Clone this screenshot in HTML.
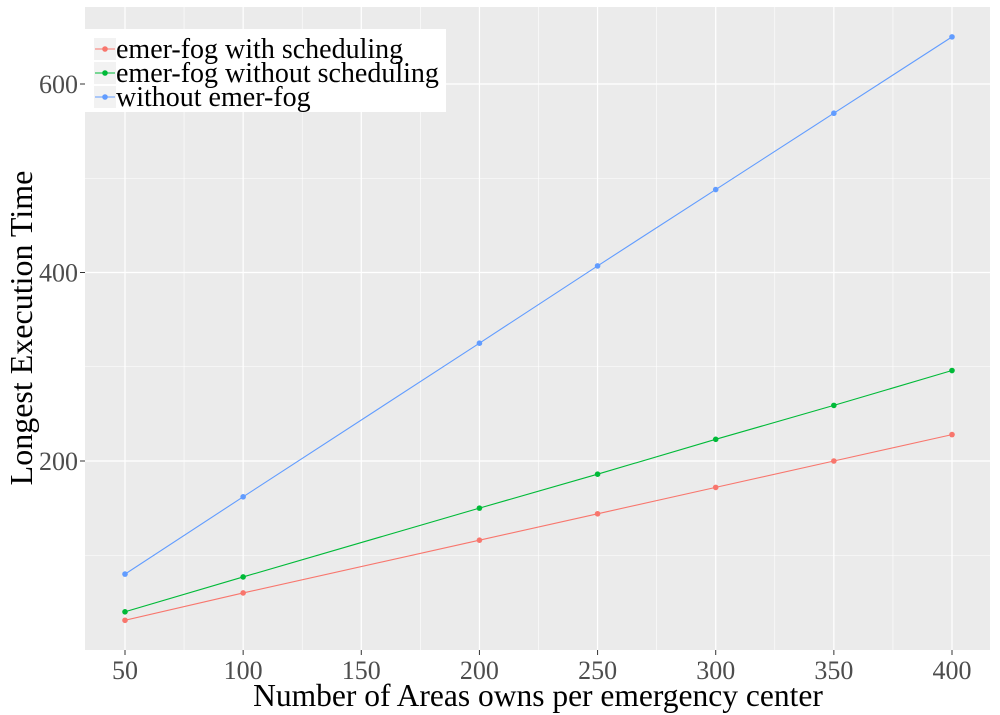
<!DOCTYPE html>
<html><head><meta charset="utf-8"><style>body{margin:0;background:#fff}svg{display:block;font-family:"Liberation Serif",serif}</style></head>
<body>
<svg id="c" width="1000" height="715">
<rect x="85" y="7" width="905" height="643" fill="#ebebeb"/>
<g id="grid"></g><g id="series"></g><g id="axes"></g>
<text x="538" y="706" font-size="31.5" text-anchor="middle">Number of Areas owns per emergency center</text>
<text transform="translate(32,328) rotate(-90)" font-size="32" text-anchor="middle">Longest Execution Time</text>
<g>
<rect x="85" y="29" width="361" height="83" fill="#fff"/>
<g id="legend"></g>
</g>
</svg>
<script>
const xs=[50,100,200,250,300,350,400];
const redVals=[31,60,116,144,172,200,228];
const greenVals=[40,77,150,186,223,259,296];
const blueVals=[80,162,325,407,488,569,650];
const names=["emer-fog with scheduling","emer-fog without scheduling","without emer-fog"];
const colors=["#f8766d","#00ba38","#619cff"];
const xTicks=[50,100,150,200,250,300,350,400];
const yTicks=[200,400,600];
const X=v=>125+(v-50)*827/350;
const Y=v=>649.5-v*188.5/200;
const NS="http://www.w3.org/2000/svg";
function mk(t,a,p){const e=document.createElementNS(NS,t);for(const k in a)e.setAttribute(k,a[k]);p.appendChild(e);return e;}
const g=document.getElementById('grid'),ax=document.getElementById('axes');
for(let v=75;v<=425;v+=50){const l=mk('line',{x1:X(v),x2:X(v),y1:7,y2:650,stroke:'#fff','stroke-width':0.6},g);}
for(let v=100;v<=700;v+=200){if(Y(v)<7)continue;const l=mk('line',{x1:85,x2:990,y1:Y(v),y2:Y(v),stroke:'#fff','stroke-width':0.6},g);}
xTicks.forEach(v=>{const l=mk('line',{x1:X(v),x2:X(v),y1:7,y2:650,stroke:'#fff','stroke-width':1.2},g);
const t=mk('line',{x1:X(v),x2:X(v),y1:650,y2:655,stroke:'#333'},ax);
const s=mk('text',{x:X(v),y:679,'font-size':26,'text-anchor':'middle',fill:'#4d4d4d'},ax);s.textContent=v;});
yTicks.forEach(v=>{const l=mk('line',{x1:85,x2:990,y1:Y(v),y2:Y(v),stroke:'#fff','stroke-width':1.2},g);
const t=mk('line',{x1:80,x2:85,y1:Y(v),y2:Y(v),stroke:'#333'},ax);
const s=mk('text',{x:78,y:Y(v)+9,'font-size':26,'text-anchor':'end',fill:'#4d4d4d'},ax);s.textContent=v;});
const sg=document.getElementById('series');
[redVals,greenVals,blueVals].forEach((vals,i)=>{
const p=mk('polyline',{points:xs.map((x,j)=>X(x)+','+Y(vals[j])).join(' '),fill:'none',stroke:colors[i],'stroke-width':1.1},sg);

xs.forEach((x,j)=>{const c=mk('circle',{cx:X(x),cy:Y(vals[j]),r:2.8,fill:colors[i]},sg);});
});
const lg=document.getElementById('legend');
names.forEach((n,i)=>{const y=49+i*24;
const e=mk('g',{},lg);
mk('rect',{x:94,y:y-11,width:22,height:22,fill:'#f2f2f2'},e);
mk('line',{x1:95,x2:115,y1:y,y2:y,stroke:colors[i],'stroke-width':1.1},e);
mk('circle',{cx:105,cy:y,r:2.8,fill:colors[i]},e);
const t=mk('text',{x:116,y:y+9,'font-size':28},e);t.textContent=n;});
</script>
</body></html>
